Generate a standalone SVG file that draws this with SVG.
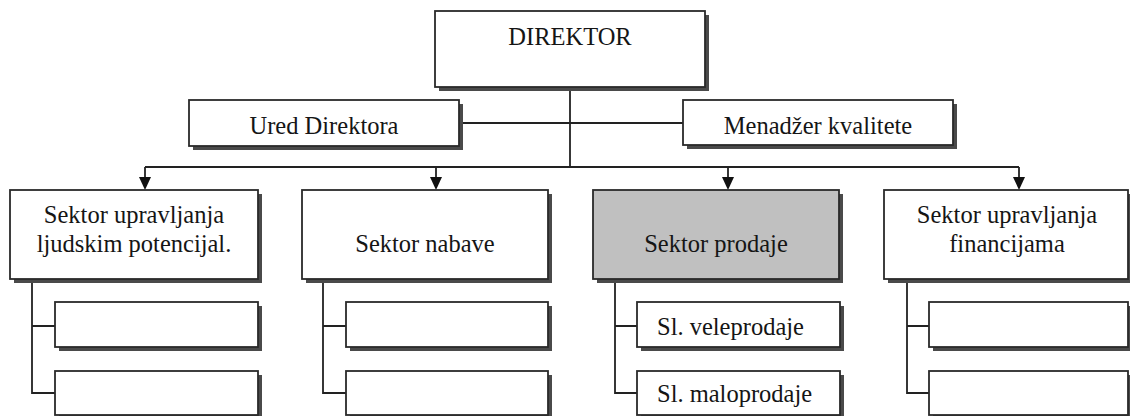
<svg xmlns="http://www.w3.org/2000/svg" width="1130" height="416" viewBox="0 0 1130 416" font-family="'Liberation Serif', 'DejaVu Serif', serif">
<style>
.box{fill:#fff;stroke:#2a2a2a;stroke-width:1.8}
.gray{fill:#c0c0c0}
.sh{fill:#4a4a4a}
.ln{fill:none;stroke:#222;stroke-width:1.8}
text{font-family:'Liberation Serif','DejaVu Serif',serif;font-size:24.5px;fill:#151515}
.c{text-anchor:middle}
</style>
<rect width="1130" height="416" fill="#fff"/>
<g id="connectors">
<path class="ln" d="M570,87 V167"/>
<path class="ln" d="M459,123 H683"/>
<path class="ln" d="M145,167 H1019"/>
<path class="ln" d="M145,167 V178" />
<path class="ln" d="M436,167 V178" />
<path class="ln" d="M728,167 V178" />
<path class="ln" d="M1019,167 V178" />
<path d="M139,177 L151,177 L145,190 Z" fill="#111"/>
<path d="M430,177 L442,177 L436,190 Z" fill="#111"/>
<path d="M722,177 L734,177 L728,190 Z" fill="#111"/>
<path d="M1013,177 L1025,177 L1019,190 Z" fill="#111"/>
<path class="ln" d="M32,279 V393 H55 M32,326 H55"/>
<path class="ln" d="M323,279 V393 H346 M323,326 H346"/>
<path class="ln" d="M615,279 V393 H637 M615,326 H637"/>
<path class="ln" d="M907,279 V393 H929 M907,326 H929"/>
</g>
<g id="direktor">
<rect class="sh" x="439" y="15" width="270" height="76"/>
<rect class="box" x="435" y="11" width="270" height="76"/>
<text class="c" x="570" y="45">DIREKTOR</text>
</g>
<g id="ured">
<rect class="sh" x="193" y="104" width="270" height="46"/>
<rect class="box" x="189" y="100" width="270" height="46"/>
<text class="c" x="324" y="134">Ured Direktora</text>
</g>
<g id="menadzer">
<rect class="sh" x="687" y="104" width="270" height="45"/>
<rect class="box" x="683" y="100" width="270" height="45"/>
<text class="c" x="818" y="134">Menadžer kvalitete</text>
</g>
<g id="sektor-ljudski">
<rect class="sh" x="14" y="194" width="248" height="89"/>
<rect class="box" x="10" y="190" width="248" height="89"/>
<text class="c" x="134" y="223">Sektor upravljanja</text>
<text class="c" x="134" y="252">ljudskim potencijal.</text>
</g>
<g id="sektor-nabave">
<rect class="sh" x="306" y="194" width="246" height="89"/>
<rect class="box" x="302" y="190" width="246" height="89"/>
<text class="c" x="425" y="252">Sektor nabave</text>
</g>
<g id="sektor-prodaje">
<rect class="sh" x="597" y="194" width="246" height="89"/>
<rect class="box gray" x="593" y="190" width="246" height="89"/>
<text class="c" x="716" y="252">Sektor prodaje</text>
</g>
<g id="sektor-financije">
<rect class="sh" x="888" y="194" width="244" height="89"/>
<rect class="box" x="884" y="190" width="244" height="89"/>
<text class="c" x="1007" y="223">Sektor upravljanja</text>
<text class="c" x="1007" y="252">financijama</text>
</g>
<g id="ljudski-sub1">
<rect class="sh" x="59" y="306" width="203" height="45"/>
<rect class="box" x="55" y="302" width="203" height="45"/>
</g>
<g id="ljudski-sub2">
<rect class="sh" x="59" y="375" width="203" height="45"/>
<rect class="box" x="55" y="371" width="203" height="44"/>
</g>
<g id="nabava-sub1">
<rect class="sh" x="350" y="306" width="202" height="45"/>
<rect class="box" x="346" y="302" width="202" height="45"/>
</g>
<g id="nabava-sub2">
<rect class="sh" x="350" y="375" width="202" height="45"/>
<rect class="box" x="346" y="371" width="202" height="44"/>
</g>
<g id="veleprodaja">
<rect class="sh" x="641" y="306" width="203" height="45"/>
<rect class="box" x="637" y="302" width="203" height="45"/>
<text x="657" y="335">Sl. veleprodaje</text>
</g>
<g id="maloprodaja">
<rect class="sh" x="641" y="375" width="203" height="45"/>
<rect class="box" x="637" y="371" width="203" height="44"/>
<text x="657" y="402">Sl. maloprodaje</text>
</g>
<g id="financije-sub1">
<rect class="sh" x="933" y="306" width="203" height="45"/>
<rect class="box" x="929" y="302" width="199" height="45"/>
</g>
<g id="financije-sub2">
<rect class="sh" x="933" y="375" width="203" height="45"/>
<rect class="box" x="929" y="371" width="199" height="44"/>
</g>
</svg>
